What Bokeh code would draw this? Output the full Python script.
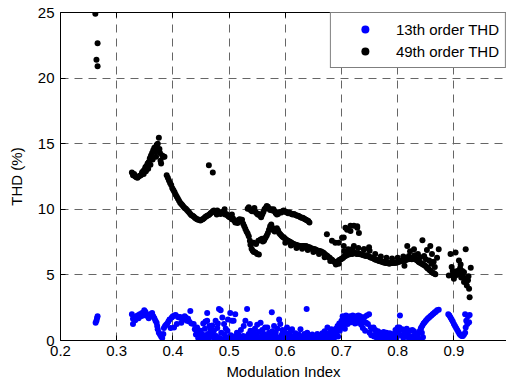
from bokeh.plotting import figure
from bokeh.models import LinearAxis, Range1d, Legend, LegendItem, FixedTicker, CustomJSTickFormatter
from bokeh.embed import file_html
from bokeh.resources import INLINE

# ---------------- 49th order THD (black) ----------------
mi49_a = [0.262, 0.266, 0.264, 0.266]
thd49_a = [24.9, 22.65, 21.4, 20.9]

mi49_b = [0.327, 0.329, 0.331, 0.333, 0.335, 0.337, 0.339, 0.341, 0.343, 0.345, 0.347, 0.349,
          0.351, 0.353, 0.355, 0.357, 0.359, 0.361, 0.363, 0.365, 0.367, 0.369, 0.371, 0.373,
          0.375, 0.376, 0.377, 0.378, 0.379, 0.381, 0.383, 0.385, 0.348, 0.352, 0.356, 0.360,
          0.364, 0.370, 0.374, 0.464, 0.471]
thd49_b = [12.8, 12.6, 12.7, 12.5, 12.45, 12.4, 12.5, 12.55, 12.6, 12.8, 12.9, 13.0,
           13.2, 13.3, 13.5, 13.6, 13.9, 14.1, 14.3, 14.5, 14.7, 14.4, 14.9, 15.0,
           15.45, 14.6, 14.3, 13.7, 13.5, 14.1, 14.0, 14.0, 12.7, 12.9, 13.1, 13.4,
           13.8, 14.0, 14.6, 13.35, 12.8]

mi49_c = [0.389, 0.391, 0.393, 0.395, 0.397, 0.399, 0.401, 0.403, 0.405, 0.407, 0.409, 0.411,
          0.413, 0.415, 0.417, 0.419, 0.421, 0.423, 0.425, 0.427, 0.429, 0.431, 0.433, 0.435,
          0.437, 0.439, 0.441, 0.443, 0.445, 0.447, 0.449, 0.451, 0.453, 0.455, 0.457, 0.459,
          0.461, 0.463, 0.465, 0.467, 0.469, 0.471, 0.473, 0.475, 0.477, 0.479, 0.481, 0.483,
          0.485, 0.487, 0.489, 0.491, 0.493, 0.495, 0.497, 0.499, 0.501, 0.503, 0.505, 0.507,
          0.509, 0.511, 0.513, 0.515, 0.517, 0.519, 0.521, 0.523, 0.525, 0.527, 0.529, 0.531,
          0.533, 0.535, 0.537, 0.538, 0.540, 0.542, 0.544, 0.547, 0.550, 0.553, 0.492, 0.478,
          0.505]
thd49_c = [12.6, 12.4, 12.2, 12.0, 11.85, 11.6, 11.45, 11.3, 11.1, 10.95, 10.8, 10.65,
           10.5, 10.4, 10.3, 10.2, 10.1, 10.05, 9.95, 9.85, 9.75, 9.65, 9.55, 9.5,
           9.45, 9.35, 9.3, 9.25, 9.2, 9.2, 9.15, 9.2, 9.25, 9.3, 9.4, 9.45,
           9.5, 9.55, 9.6, 9.7, 9.75, 9.85, 9.9, 9.85, 9.8, 9.9, 9.8, 9.7,
           9.65, 9.75, 9.8, 9.7, 9.6, 9.65, 9.55, 9.45, 9.4, 9.35, 9.25, 9.3,
           9.15, 9.0, 9.1, 8.95, 9.2, 9.25, 9.1, 9.2, 8.9, 8.7, 8.5, 8.3,
           8.15, 7.95, 7.6, 7.3, 7.0, 6.85, 6.75, 6.7, 6.6, 6.55, 10.0, 9.6,
           9.6]

mi49_d = [0.544, 0.548, 0.552, 0.556, 0.559, 0.562,
          0.533, 0.535, 0.537, 0.539, 0.541, 0.543, 0.545, 0.547, 0.549, 0.551, 0.553, 0.555,
          0.557, 0.559, 0.561, 0.563, 0.565, 0.567, 0.569, 0.571, 0.573, 0.575, 0.577, 0.579,
          0.581, 0.583, 0.585, 0.587, 0.589, 0.591, 0.593, 0.595, 0.597, 0.599, 0.601, 0.603,
          0.605, 0.607, 0.609, 0.611, 0.613, 0.615, 0.617, 0.619, 0.621, 0.623, 0.625, 0.627,
          0.629, 0.631, 0.633, 0.635, 0.637, 0.639, 0.641, 0.643]
thd49_d = [7.45, 7.35, 7.6, 7.7, 7.75, 7.6,
           10.05, 10.15, 10.0, 9.9, 9.85, 9.95, 10.1, 9.8, 9.7, 9.6, 9.65, 9.5,
           9.4, 9.6, 9.8, 10.0, 10.1, 10.25, 10.2, 10.05, 9.95, 10.0, 9.9, 10.0,
           9.85, 9.7, 9.6, 9.65, 9.75, 9.8, 9.75, 9.85, 9.9, 9.85, 9.8, 9.75,
           9.7, 9.75, 9.7, 9.65, 9.6, 9.65, 9.6, 9.55, 9.5, 9.5, 9.45, 9.4,
           9.35, 9.35, 9.3, 9.25, 9.2, 9.15, 9.1, 9.0]

mi49_e = [0.560, 0.563, 0.565, 0.567, 0.569, 0.571, 0.573, 0.575, 0.577, 0.579, 0.581, 0.583,
          0.585, 0.587, 0.589, 0.591, 0.593, 0.595, 0.597, 0.599, 0.601, 0.603, 0.605, 0.607,
          0.609, 0.611, 0.613, 0.615, 0.617, 0.619, 0.621, 0.623, 0.625, 0.627, 0.629, 0.631,
          0.633, 0.635, 0.637, 0.639, 0.641, 0.643, 0.645, 0.647, 0.649, 0.651, 0.653, 0.655,
          0.657, 0.659, 0.661, 0.663, 0.665, 0.667, 0.669, 0.671, 0.673, 0.675, 0.677, 0.679,
          0.681, 0.683, 0.685, 0.687, 0.689, 0.691, 0.693, 0.695, 0.697, 0.699,
          0.600, 0.610, 0.620, 0.630, 0.640, 0.650, 0.660, 0.670, 0.680, 0.690, 0.695]
thd49_e = [7.55, 7.7, 7.85, 8.0, 8.2, 8.45, 8.7, 8.85, 8.6, 8.4, 8.3, 8.45,
           8.55, 8.4, 8.2, 8.1, 8.0, 7.9, 7.85, 7.8, 7.7, 7.65, 7.6, 7.55,
           7.5, 7.45, 7.4, 7.35, 7.3, 7.3, 7.25, 7.25, 7.2, 7.2, 7.15, 7.2,
           7.2, 7.15, 7.2, 7.15, 7.1, 7.1, 7.05, 7.0, 7.0, 6.95, 6.95, 6.9,
           6.85, 6.85, 6.8, 6.8, 6.75, 6.7, 6.65, 6.55, 6.5, 6.45, 6.35, 6.3,
           6.2, 6.15, 6.05, 6.0, 5.95, 5.95, 6.0, 6.1, 6.15, 6.2,
           7.45, 7.25, 7.05, 7.0, 6.9, 6.75, 6.6, 6.35, 6.05, 5.8, 5.85]

mi49_f = [0.701, 0.703, 0.705, 0.707, 0.709, 0.711, 0.713, 0.715, 0.717, 0.719, 0.721, 0.723,
          0.725, 0.727, 0.729, 0.731, 0.733, 0.735, 0.737, 0.739, 0.741, 0.743, 0.745, 0.747,
          0.749, 0.751, 0.753, 0.755, 0.757, 0.759, 0.761, 0.763, 0.765, 0.767, 0.769, 0.771,
          0.773, 0.775, 0.777, 0.779, 0.781, 0.783, 0.785, 0.787, 0.789, 0.791, 0.793, 0.795,
          0.797, 0.799, 0.801, 0.803, 0.805, 0.807, 0.809, 0.811, 0.813, 0.815, 0.817, 0.819,
          0.821, 0.823, 0.825, 0.827, 0.829, 0.831, 0.833, 0.835, 0.837, 0.839, 0.841, 0.843,
          0.845, 0.847, 0.849, 0.851, 0.853, 0.855, 0.857, 0.859, 0.861, 0.863, 0.865, 0.867,
          0.705, 0.712, 0.720, 0.730, 0.740, 0.750, 0.760, 0.770, 0.780, 0.790, 0.800, 0.810,
          0.820, 0.830, 0.840, 0.850, 0.860]
thd49_f = [6.25, 6.3, 6.4, 6.45, 6.5, 6.55, 6.55, 6.6, 6.65, 6.6, 6.65, 6.7,
           6.65, 6.6, 6.65, 6.6, 6.6, 6.55, 6.55, 6.5, 6.5, 6.45, 6.5, 6.45,
           6.4, 6.35, 6.3, 6.3, 6.25, 6.2, 6.15, 6.15, 6.1, 6.05, 6.05, 6.0,
           6.0, 5.95, 5.95, 5.9, 5.9, 5.9, 5.85, 5.9, 5.9, 5.9, 5.95, 5.9,
           5.95, 5.95, 6.0, 6.0, 6.05, 6.05, 6.1, 6.15, 6.1, 6.15, 6.2, 6.2,
           6.25, 6.25, 6.2, 6.3, 6.25, 6.2, 6.15, 6.1, 6.0, 5.95, 5.9, 5.85,
           5.8, 5.75, 5.7, 5.6, 5.5, 5.45, 5.35, 5.3, 5.2, 5.15, 5.1, 5.05,
           6.8, 6.95, 7.0, 7.05, 6.95, 6.85, 6.6, 6.4, 6.3, 6.25, 6.3, 6.4,
           6.45, 6.5, 6.35, 6.2, 5.85]

mi49_g = [0.704, 0.704, 0.707, 0.710, 0.716, 0.716, 0.722, 0.728, 0.728, 0.731, 0.722, 0.740,
          0.749, 0.674, 0.683, 0.689, 0.695, 0.701,
          0.812, 0.817, 0.822, 0.829, 0.836, 0.844, 0.847, 0.852, 0.853, 0.858, 0.861, 0.864,
          0.870, 0.873, 0.866, 0.856]
thd49_g = [7.85, 7.2, 8.6, 8.45, 8.75, 8.35, 8.75, 8.7, 8.6, 8.2, 7.2, 6.95,
           7.1, 8.1, 7.6, 7.45, 7.45, 7.84,
           5.7, 7.2, 6.8, 6.95, 6.6, 7.65, 6.45, 6.9, 5.55, 7.2, 6.6, 6.0,
           6.3, 6.95, 5.6, 6.1]

mi49_h = [0.891, 0.894, 0.896, 0.898, 0.900, 0.903, 0.903, 0.906, 0.909, 0.909, 0.912, 0.913,
          0.915, 0.918, 0.918, 0.921, 0.921, 0.923, 0.925, 0.927, 0.928, 0.930, 0.926, 0.897,
          0.911, 0.916]
thd49_h = [4.95, 6.6, 5.6, 5.3, 4.7, 6.7, 4.95, 5.3, 6.1, 5.05, 5.8, 4.8,
           5.3, 5.2, 4.45, 6.95, 4.7, 4.2, 4.6, 3.95, 3.3, 5.55, 4.9, 5.0,
           5.5, 4.95]

mi49 = mi49_a + mi49_b + mi49_c + mi49_d + mi49_e + mi49_f + mi49_g + mi49_h
thd49 = thd49_a + thd49_b + thd49_c + thd49_d + thd49_e + thd49_f + thd49_g + thd49_h

# ---------------- 13th order THD (blue) ----------------
mi13_a = [0.2625, 0.264, 0.265, 0.266,
          0.327, 0.329, 0.329, 0.331, 0.333, 0.335, 0.337, 0.339, 0.341, 0.343, 0.345, 0.347,
          0.349, 0.351, 0.353, 0.355, 0.357, 0.359, 0.361, 0.363, 0.365, 0.367, 0.369, 0.371,
          0.372, 0.373, 0.375, 0.377, 0.379, 0.381, 0.383, 0.384, 0.386, 0.388, 0.390,
          0.392, 0.394, 0.396, 0.398, 0.400, 0.402, 0.403, 0.405, 0.407, 0.409, 0.411, 0.413,
          0.415, 0.417, 0.419, 0.421, 0.423, 0.425, 0.427, 0.429, 0.431, 0.433]
thd13_a = [1.35, 1.5, 1.7, 1.85,
           2.0, 1.65, 1.25, 1.8, 1.55, 1.75, 1.9, 1.7, 2.0, 1.85, 2.1, 1.9,
           2.3, 2.2, 1.95, 1.85, 1.7, 2.0, 1.9, 2.1, 1.85, 1.7, 1.5, 1.35,
           1.1, 0.85, 0.6, 0.45, 0.3, 0.2, 0.5, 0.95, 1.1, 1.2, 1.3,
           1.45, 1.6, 0.95, 1.75, 1.85, 1.0, 1.9, 1.95, 1.25, 1.8, 1.75, 1.8,
           1.35, 1.7, 1.6, 1.85, 1.75, 1.5, 1.65, 1.45, 2.25, 1.3]

mi13_b = [0.437, 0.439, 0.441, 0.443, 0.445, 0.446, 0.448, 0.449, 0.451, 0.452, 0.454, 0.455,
          0.457, 0.458, 0.459, 0.461, 0.461, 0.462, 0.464, 0.465, 0.467, 0.468, 0.470, 0.471,
          0.473, 0.474, 0.476, 0.477, 0.479, 0.480, 0.482, 0.483, 0.485, 0.486, 0.488, 0.489,
          0.491, 0.492, 0.494, 0.495, 0.497, 0.498]
thd13_b = [1.25, 0.85, 0.45, 1.0, 0.2, 0.6, 0.3, 0.75, 0.1, 0.5, 1.3, 0.2,
           0.9, 1.45, 0.35, 1.5, 2.1, 0.5, 0.15, 1.1, 0.8, 0.3, 1.15, 0.55,
           0.75, 0.1, 1.5, 0.35, 0.95, 1.3, 2.4, 0.2, 2.3, 0.6, 1.75, 0.1,
           1.25, 0.45, 0.9, 0.25, 0.75, 1.6]

mi13_c = [0.500, 0.502, 0.503, 0.505, 0.506, 0.508, 0.509, 0.511, 0.512, 0.514, 0.515, 0.517,
          0.518, 0.520, 0.521, 0.523, 0.525, 0.526, 0.528, 0.529, 0.531, 0.532, 0.534, 0.535,
          0.537, 0.538, 0.540, 0.541, 0.543, 0.544, 0.546, 0.547, 0.549, 0.550, 0.552, 0.553,
          0.555, 0.556, 0.558, 0.559, 0.561, 0.562, 0.564, 0.565, 0.567, 0.568, 0.570, 0.571,
          0.573, 0.574, 0.576, 0.577, 0.579, 0.580, 0.582, 0.583, 0.585, 0.586, 0.588, 0.589,
          0.591, 0.592, 0.594, 0.595, 0.597, 0.598, 0.600, 0.601, 0.603, 0.604, 0.606, 0.607,
          0.609, 0.610, 0.612, 0.613, 0.615, 0.616, 0.618, 0.619, 0.621, 0.622, 0.624, 0.625,
          0.627, 0.628, 0.630, 0.631, 0.633, 0.634, 0.636, 0.638, 0.639, 0.640, 0.642, 0.643,
          0.645, 0.646, 0.648, 0.649, 0.651, 0.652, 0.654, 0.655, 0.657, 0.658, 0.660, 0.661,
          0.663, 0.664, 0.666, 0.667, 0.669, 0.670, 0.672, 0.673, 0.675, 0.676, 0.678, 0.679,
          0.681, 0.682, 0.684, 0.685, 0.687, 0.688, 0.690, 0.691, 0.693, 0.694, 0.696, 0.697,
          0.699]
thd13_c = [0.1, 2.1, 0.4, 1.5, 0.15, 1.5, 0.3, 2.0, 0.1, 0.6, 0.25, 0.4,
           0.1, 0.25, 0.8, 0.1, 0.35, 1.1, 0.15, 1.5, 0.3, 2.4, 0.1, 0.5,
           1.25, 0.75, 0.1, 0.35, 0.6, 0.2, 0.9, 0.1, 0.45, 1.2, 0.2, 0.65,
           0.1, 1.35, 0.3, 0.8, 0.15, 0.5, 1.0, 0.1, 0.35, 1.0, 0.2, 0.6,
           0.1, 0.4, 2.15, 0.7, 0.15, 1.1, 0.3, 0.6, 0.1, 0.9, 0.25, 1.6,
           1.25, 0.1, 0.45, 0.8, 0.15, 0.35, 0.6, 0.1, 1.0, 0.3, 0.1, 0.5,
           0.2, 0.75, 0.85, 0.1, 0.35, 0.15, 0.55, 0.1, 0.3, 0.1, 0.45, 0.2,
           0.85, 0.1, 0.3, 0.1, 0.2, 0.5, 0.1, 2.4, 0.6, 0.25, 0.1, 0.35,
           0.1, 0.2, 0.45, 0.1, 0.15, 0.3, 0.1, 0.2, 0.5, 0.1, 0.25, 0.1,
           0.35, 0.15, 0.55, 0.1, 0.3, 0.7, 0.2, 0.45, 1.0, 0.1, 0.35, 0.6,
           0.2, 0.85, 0.4, 0.1, 0.65, 0.25, 0.9, 0.5, 1.1, 0.3, 1.3, 0.75,
           1.0]

mi13_d = [0.700, 0.702, 0.703, 0.705, 0.706, 0.708, 0.709, 0.711, 0.712, 0.714, 0.715, 0.717,
          0.718, 0.720, 0.721, 0.723, 0.724, 0.726, 0.727, 0.729, 0.730, 0.732, 0.733, 0.735,
          0.736, 0.738, 0.739, 0.741, 0.742, 0.744, 0.745, 0.747, 0.749, 0.750, 0.752, 0.753,
          0.755, 0.757, 0.758, 0.760, 0.761, 0.763, 0.765, 0.766, 0.768, 0.770, 0.771, 0.773,
          0.775, 0.776, 0.778, 0.780, 0.781, 0.783, 0.785, 0.786, 0.788, 0.790, 0.791, 0.793,
          0.795, 0.796, 0.798]
thd13_d = [1.5, 1.85, 1.2, 1.65, 0.9, 1.9, 1.35, 1.25, 1.8, 1.55, 1.85, 1.4,
           1.7, 1.9, 1.5, 1.75, 1.3, 1.85, 1.45, 1.35, 1.9, 1.6, 1.85, 1.2,
           1.75, 0.95, 1.5, 1.8, 0.75, 1.35, 1.9, 1.25, 2.0, 0.6, 1.0, 0.4,
           0.9, 1.0, 0.3, 0.8, 0.5, 0.2, 0.7, 0.35, 0.6, 0.15, 0.55, 0.3,
           0.65, 0.15, 0.5, 0.6, 0.25, 0.45, 0.1, 0.55, 0.3, 0.45, 0.15, 0.5,
           0.3, 0.8, 0.2]

mi13_e = [0.800, 0.802, 0.803, 0.804, 0.806, 0.808, 0.810, 0.812, 0.814, 0.816, 0.818, 0.820,
          0.822, 0.824, 0.826, 0.828, 0.829, 0.831, 0.833, 0.835, 0.837, 0.839, 0.841, 0.842,
          0.844, 0.846, 0.848, 0.850, 0.852, 0.854, 0.856, 0.858, 0.860, 0.862, 0.864, 0.866,
          0.868, 0.870, 0.873, 0.838, 0.845, 0.843]
thd13_e = [1.0, 0.6, 1.0, 1.9, 0.4, 0.85, 0.2, 0.7, 0.35, 0.9, 0.5, 0.15,
           0.75, 0.3, 0.8, 0.1, 0.7, 0.45, 0.2, 0.35, 0.55, 0.7, 0.9, 1.0,
           1.15, 1.3, 1.4, 1.5, 1.6, 1.7, 1.75, 1.85, 1.9, 2.0, 2.05, 2.15,
           2.2, 2.3, 2.35, 0.1, 0.25, 0.6]

mi13_f = [0.890, 0.892, 0.894, 0.896, 0.898, 0.900, 0.902, 0.904, 0.906, 0.908, 0.910, 0.912,
          0.914, 0.916, 0.918, 0.920, 0.921, 0.922, 0.924, 0.925, 0.927, 0.928, 0.920]
thd13_f = [2.0, 1.9, 1.75, 1.6, 1.45, 1.25, 1.1, 0.95, 0.8, 0.65, 0.5, 0.4,
           0.35, 0.35, 0.45, 0.6, 1.0, 1.5, 1.25, 1.85, 1.4, 1.95, 2.0]

mi13 = mi13_a + mi13_b + mi13_c + mi13_d + mi13_e + mi13_f
thd13 = thd13_a + thd13_b + thd13_c + thd13_d + thd13_e + thd13_f

x_ticks = [0.2, 0.3, 0.4, 0.5, 0.6, 0.7, 0.8, 0.9]
y_ticks = [0, 5, 10, 15, 20, 25]
labels = ["13th order THD", "49th order THD"]

FONT = "Liberation Sans"

p = figure(width=506, height=385, x_range=Range1d(0.2, 0.9936), y_range=Range1d(0, 25),
           output_backend="svg", toolbar_location=None,
           min_border_left=60, min_border_right=0, min_border_top=12, min_border_bottom=45)
p.outline_line_color = None
p.background_fill_color = "white"
p.border_fill_color = "white"

r13 = p.scatter(mi13, thd13, size=6, color="#0000ff", line_color=None)
r49 = p.scatter(mi49, thd49, size=6, color="black", line_color=None)

for ax, ticks in ((p.xaxis[0], x_ticks), (p.yaxis[0], y_ticks)):
    ax.ticker = FixedTicker(ticks=ticks)
    ax.major_tick_in = 5
    ax.major_tick_out = 0
    ax.minor_tick_line_color = None
    ax.axis_line_color = "black"
    ax.major_tick_line_color = "black"
    ax.major_label_text_font = FONT
    ax.major_label_text_font_size = "15px"
    ax.major_label_text_color = "black"
    ax.axis_label_text_font = FONT
    ax.axis_label_text_font_size = "15px"
    ax.axis_label_text_font_style = "normal"
    ax.axis_label_text_color = "black"

p.xaxis.axis_label = "Modulation Index"
p.yaxis.axis_label = "THD (%)"
p.xaxis.major_label_standoff = 5
p.xaxis.axis_label_standoff = 4
p.yaxis.major_label_standoff = 6
p.yaxis.axis_label_standoff = 10

top = LinearAxis(ticker=FixedTicker(ticks=x_ticks), major_tick_in=5, major_tick_out=0,
                 minor_tick_line_color=None, axis_line_color="black",
                 major_label_text_font_size="0px", major_label_standoff=0,
                 formatter=CustomJSTickFormatter(code="return ''"))
p.add_layout(top, "above")

for g in (p.xgrid[0], p.ygrid[0]):
    g.grid_line_color = "#666666"
    g.grid_line_dash = "8 6"
    g.grid_line_width = 1

legend = Legend(items=[LegendItem(label=labels[0], renderers=[r13]),
                       LegendItem(label=labels[1], renderers=[r49])],
                location="top_right", margin=0, padding=6, spacing=2,
                glyph_width=56, glyph_height=20, label_height=20, label_standoff=3,
                label_text_font=FONT, label_text_font_size="15px", label_text_color="black",
                border_line_color="black", border_line_width=1,
                background_fill_color="white", background_fill_alpha=1.0)
p.add_layout(legend)

open("out.html", "w").write(file_html(p, INLINE))
